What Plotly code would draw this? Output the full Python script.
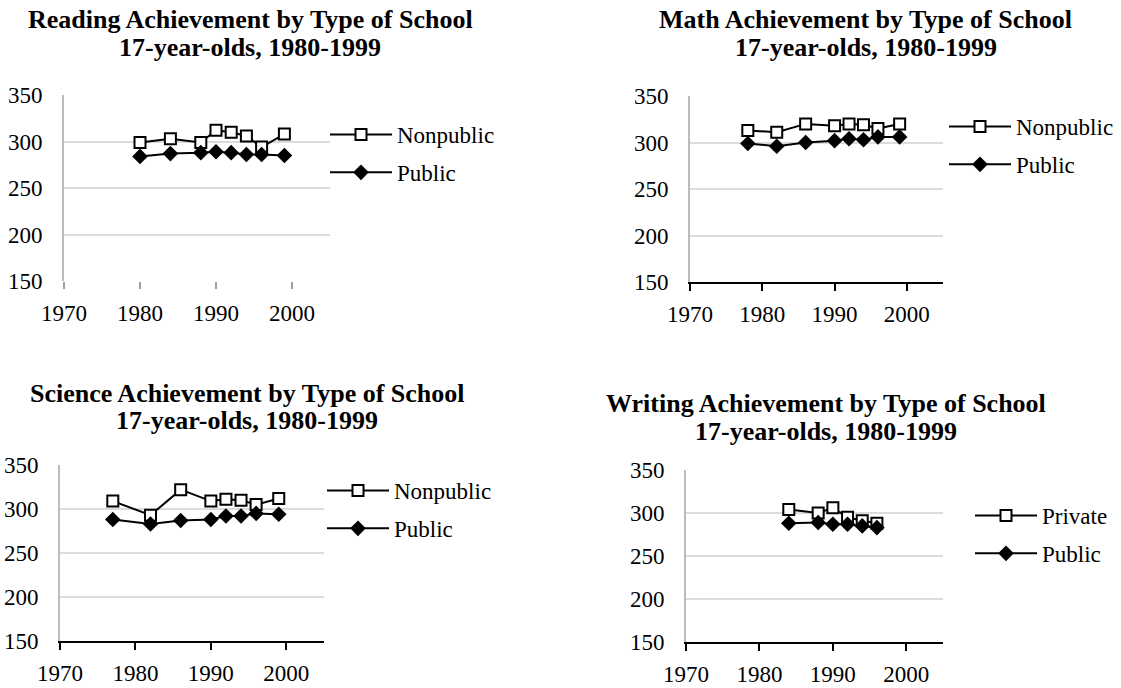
import plotly.graph_objects as go

# ---------------- data ----------------
reading_years = [1980, 1984, 1988, 1990, 1992, 1994, 1996, 1999]
reading_nonpublic = [299, 303, 299, 312, 310, 306, 294, 308]
reading_public = [284, 287, 288, 289, 288, 286, 286, 285]

math_years = [1978, 1982, 1986, 1990, 1992, 1994, 1996, 1999]
math_nonpublic = [313, 311, 320, 318, 320, 319, 315, 320]
math_public = [299, 296, 300, 302, 304, 303, 306, 306]

science_years = [1977, 1982, 1986, 1990, 1992, 1994, 1996, 1999]
science_nonpublic = [309, 293, 322, 309, 311, 310, 305, 312]
science_public = [288, 283, 287, 288, 292, 292, 295, 294]

writing_years = [1984, 1988, 1990, 1992, 1994, 1996]
writing_private = [304, 300, 306, 295, 291, 288]
writing_public = [288, 289, 287, 287, 285, 283]

titles = [
    ("Reading Achievement by Type of School", "17-year-olds, 1980-1999"),
    ("Math Achievement by Type of School", "17-year-olds, 1980-1999"),
    ("Science Achievement by Type of School", "17-year-olds, 1980-1999"),
    ("Writing Achievement by Type of School", "17-year-olds, 1980-1999"),
]
x_ticks = [1970, 1980, 1990, 2000]
y_ticks = [150, 200, 250, 300, 350]

W, H = 1121, 688
FONT = "Liberation Serif"


def fx(px):
    return px / W


def fy(py):
    return 1 - py / H


# panel pixel boxes: (left, right, top, bottom)
boxes = [
    (64, 330, 95, 281),
    (690, 943, 96, 282),
    (60, 324, 465, 641),
    (686, 943, 470, 642),
]
# legend anchors (x of line start, y of first row)
leg_pos = [(333, 135), (952, 127), (330, 491), (978, 516)]
# title centers (x, y line1, y line2)
title_pos = [(250, 19.5, 47), (866, 19.5, 47), (247, 393, 420), (826, 403, 431)]

series = [
    (reading_years, reading_nonpublic, reading_public, "Nonpublic"),
    (math_years, math_nonpublic, math_public, "Nonpublic"),
    (science_years, science_nonpublic, science_public, "Nonpublic"),
    (writing_years, writing_private, writing_public, "Private"),
]

fig = go.Figure()
layout = dict(
    template="none",
    width=W, height=H,
    margin=dict(l=0, r=0, t=0, b=0, autoexpand=False),
    paper_bgcolor="white", plot_bgcolor="white",
    font=dict(family=FONT, size=23, color="black"),
    annotations=[],
)

for i, (yrs, a, b, aname) in enumerate(series):
    n = i + 1
    xa = "x" if n == 1 else f"x{n}"
    ya = "y" if n == 1 else f"y{n}"
    leg = "legend" if n == 1 else f"legend{n}"
    fig.add_trace(go.Scatter(
        x=yrs, y=a, name=aname, mode="lines+markers", xaxis=xa, yaxis=ya,
        legend=leg, legendgroup=f"g{n}a",
        line=dict(color="black", width=2),
        marker=dict(symbol="square", size=11, color="white",
                    line=dict(color="black", width=2)),
    ))
    fig.add_trace(go.Scatter(
        x=yrs, y=b, name="Public", mode="lines+markers", xaxis=xa, yaxis=ya,
        legend=leg, legendgroup=f"g{n}b",
        line=dict(color="black", width=2),
        marker=dict(symbol="diamond", size=12, color="black",
                    line=dict(color="black", width=0)),
    ))
    l, r, t, btm = boxes[i]
    xkey = "xaxis" if n == 1 else f"xaxis{n}"
    ykey = "yaxis" if n == 1 else f"yaxis{n}"
    layout[xkey] = dict(
        domain=[fx(l), fx(r)], anchor=ya, range=[1970, 2005],
        tickvals=x_ticks, ticktext=[str(v) for v in x_ticks],
        showgrid=False, zeroline=False, automargin=False,
        showline=(n != 1), linecolor="black", linewidth=1.5,
        ticks="outside", ticklen=7, tickwidth=1.5,
        tickcolor="#a0a0a0" if n == 1 else "black",
        ticklabelstandoff=4,
        tickfont=dict(family=FONT, size=23, color="black"),
        fixedrange=True,
    )
    layout[ykey] = dict(
        domain=[fy(btm), fy(t)], anchor=xa, range=[150, 350],
        tickvals=y_ticks, ticktext=[str(v) for v in y_ticks],
        showgrid=True, gridcolor="#dcdcdc", gridwidth=2, automargin=False,
        zeroline=False, showline=True, linecolor="#bcbcbc", linewidth=2,
        ticks="", ticklabelstandoff=15,
        tickfont=dict(family=FONT, size=23, color="black"),
        fixedrange=True,
    )
    lx, ly = leg_pos[i]
    layout[leg] = dict(
        x=fx(lx - 8), y=fy(ly - 22), xanchor="left", yanchor="top",
        bgcolor="rgba(0,0,0,0)", borderwidth=0,
        font=dict(family=FONT, size=23, color="black"),
        itemwidth=62, tracegroupgap=5, traceorder="grouped",
    )
    cx, y1, y2 = title_pos[i]
    t1, t2 = titles[i]
    for txt, yy in ((t1, y1), (t2, y2)):
        layout["annotations"].append(dict(
            text=f"<b>{txt}</b>", x=fx(cx), y=fy(yy), xref="paper", yref="paper",
            xanchor="center", yanchor="middle", showarrow=False,
            font=dict(family=FONT, size=26, color="black"),
        ))

fig.update_layout(**layout)
fig.write_html("out.html", config={"displayModeBar": False},
               post_script="document.body.style.margin='0';")
